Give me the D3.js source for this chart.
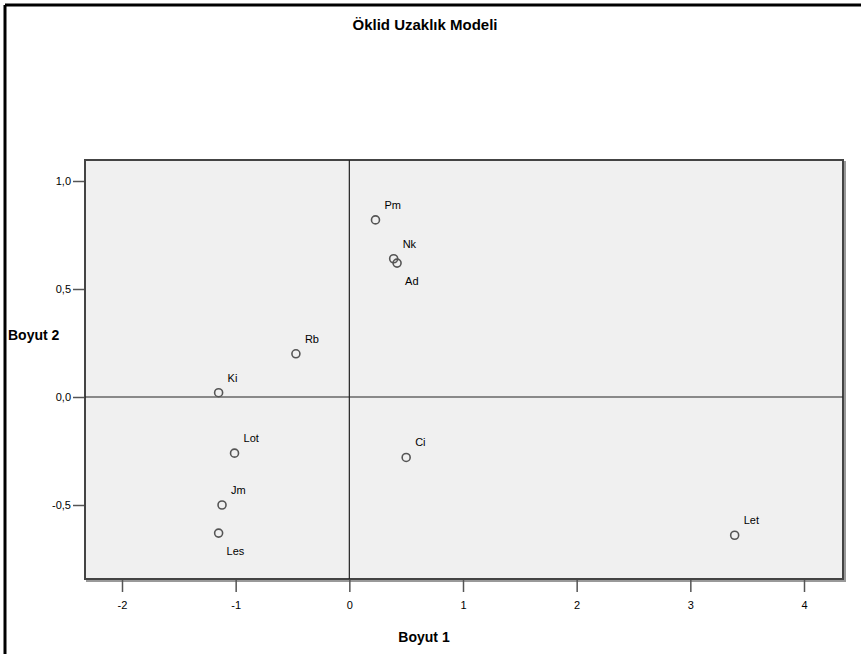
<!DOCTYPE html>
<html>
<head>
<meta charset="utf-8">
<script src="https://cdn.jsdelivr.net/npm/d3@7"></script>
<style>
  body { margin: 0; background: #fff; }
  svg { display: block; }
</style>
</head>
<body>
<svg width="861" height="654"></svg>
<script>
// stimulus names and their coordinates in the two dimensions
const names = ["Pm", "Nk", "Ad", "Rb", "Ki", "Lot", "Ci", "Jm", "Les", "Let"];
const boyut1 = [0.23, 0.39, 0.42, -0.47, -1.15, -1.01, 0.50, -1.12, -1.15, 3.39];
const boyut2 = [0.82, 0.64, 0.62, 0.20, 0.02, -0.26, -0.28, -0.50, -0.63, -0.64];
const below = ["Ad", "Les"];   // labels drawn under the point

const xTicks = [-2, -1, 0, 1, 2, 3, 4];
const yTicks = [1.0, 0.5, 0.0, -0.5];

const svg = d3.select("svg");
const pL = 85, pR = 843, pT = 160, pB = 579;

var scX = d3.scaleLinear().domain([-2, 4]).range([122, 804]);
var scY = d3.scaleLinear().domain([0, 1]).range([397, 181]);

// outer frame (top and left only)
svg.append("line").attr("x1", 5).attr("x2", 861).attr("y1", 5).attr("y2", 5)
   .attr("stroke", "black").attr("stroke-width", 3);
svg.append("line").attr("x1", 5).attr("x2", 5).attr("y1", 5).attr("y2", 654)
   .attr("stroke", "black").attr("stroke-width", 3);

svg.append("text").attr("x", 425).attr("y", 30)
   .attr("text-anchor", "middle")
   .attr("font-family", "Liberation Sans, Arial, sans-serif")
   .attr("font-size", 15).attr("font-weight", "bold")
   .text("Öklid Uzaklık Modeli");

// plot area with a shadow on right/bottom
svg.append("rect").attr("x", pL + 2).attr("y", pT + 2)
   .attr("width", pR - pL).attr("height", pB - pT)
   .attr("fill", "none").attr("stroke", "#999").attr("stroke-width", 2);
svg.append("rect").attr("x", pL).attr("y", pT)
   .attr("width", pR - pL).attr("height", pB - pT)
   .attr("fill", "#f0f0f0").attr("stroke", "#444").attr("stroke-width", 2);

// reference lines at zero
svg.append("line").attr("x1", scX(0)).attr("x2", scX(0)).attr("y1", pT).attr("y2", pB)
   .attr("stroke", "#222").attr("stroke-width", 1.2);
svg.append("line").attr("x1", pL).attr("x2", pR).attr("y1", scY(0)).attr("y2", scY(0))
   .attr("stroke", "#222").attr("stroke-width", 1.2);

const fmt = d => d3.format(".1f")(d).replace(".", ",").replace("−", "-");

const xAxis = svg.append("g").attr("transform", `translate(0,${pB + 1})`)
   .call(d3.axisBottom(scX).tickValues(xTicks).tickSize(12).tickPadding(9)
           .tickFormat(d => String(d)));
const yAxis = svg.append("g").attr("transform", `translate(${pL - 1},0)`)
   .call(d3.axisLeft(scY).tickValues(yTicks).tickSize(11).tickPadding(2)
           .tickFormat(fmt));

[xAxis, yAxis].forEach(a => {
  a.select(".domain").remove();
  a.selectAll(".tick line").attr("stroke", "#555").attr("stroke-width", 1.5);
  a.selectAll(".tick text").attr("fill", "#000")
   .attr("font-family", "Liberation Sans Narrow, Liberation Sans, Arial, sans-serif")
   .attr("font-size", 11);
});

svg.append("text").attr("x", 8).attr("y", 340)
   .attr("font-family", "Liberation Sans, Arial, sans-serif")
   .attr("font-size", 14).attr("font-weight", "bold")
   .text("Boyut 2");
svg.append("text").attr("x", 424).attr("y", 642)
   .attr("text-anchor", "middle")
   .attr("font-family", "Liberation Sans, Arial, sans-serif")
   .attr("font-size", 14).attr("font-weight", "bold")
   .text("Boyut 1");

const pts = names.map((n, i) => ({ name: n, x: boyut1[i], y: boyut2[i] }));

const g = svg.append("g").selectAll("g").data(pts).enter().append("g")
   .attr("transform", d => "translate(" + scX(d.x) + "," + scY(d.y) + ")");

g.append("circle").attr("r", 4)
 .attr("fill", "none").attr("stroke", "#555").attr("stroke-width", 1.6);

g.append("text")
 .attr("x", d => below.includes(d.name) ? 8 : 9)
 .attr("y", d => below.includes(d.name) ? 22 : -11)
 .attr("font-family", "Liberation Sans Narrow, Liberation Sans, Arial, sans-serif")
 .attr("font-size", 11).attr("fill", "#000")
 .text(d => d.name);
</script>
</body>
</html>
